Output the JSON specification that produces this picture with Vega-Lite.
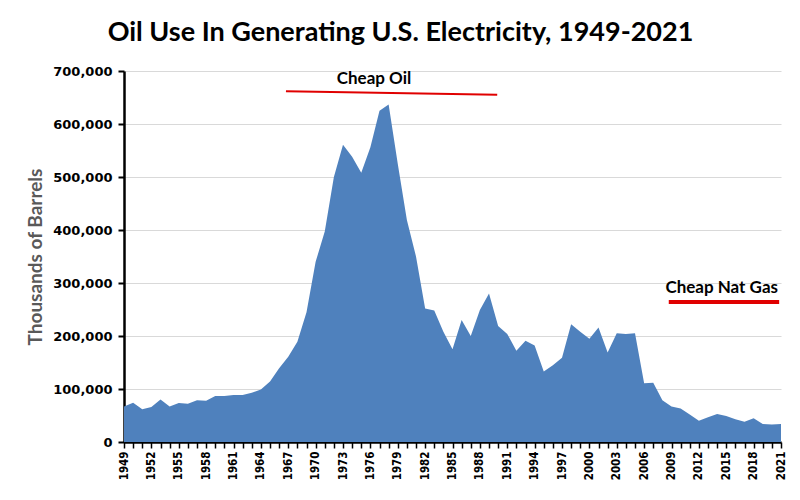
{
  "$schema": "https://vega.github.io/schema/vega-lite/v6.json",
  "width": 657,
  "height": 371,
  "autosize": {"type": "none"},
  "padding": {"left": 124, "top": 71, "right": 19, "bottom": 58},
  "background": "white",
  "config": {"view": {"stroke": null}},
  "title": {
    "text": "Oil Use In Generating U.S. Electricity, 1949-2021",
    "font": "Lato",
    "fontSize": 27,
    "fontWeight": "bold",
    "color": "#000000",
    "anchor": "middle",
    "frame": "group",
    "dx": -52,
    "offset": 18
  },
  "datasets": {
    "oil": [
      {"year": 1949, "barrels": 67000}, {"year": 1950, "barrels": 74000}, {"year": 1951, "barrels": 62000},
      {"year": 1952, "barrels": 66000}, {"year": 1953, "barrels": 80000}, {"year": 1954, "barrels": 67000},
      {"year": 1955, "barrels": 73500}, {"year": 1956, "barrels": 72000}, {"year": 1957, "barrels": 79000},
      {"year": 1958, "barrels": 78000}, {"year": 1959, "barrels": 87000}, {"year": 1960, "barrels": 87000},
      {"year": 1961, "barrels": 88600}, {"year": 1962, "barrels": 88600}, {"year": 1963, "barrels": 93000},
      {"year": 1964, "barrels": 99000}, {"year": 1965, "barrels": 114000}, {"year": 1966, "barrels": 139000},
      {"year": 1967, "barrels": 161000}, {"year": 1968, "barrels": 189000}, {"year": 1969, "barrels": 245000},
      {"year": 1970, "barrels": 340000}, {"year": 1971, "barrels": 397000}, {"year": 1972, "barrels": 500000},
      {"year": 1973, "barrels": 561000}, {"year": 1974, "barrels": 538000}, {"year": 1975, "barrels": 508000},
      {"year": 1976, "barrels": 556000}, {"year": 1977, "barrels": 625000}, {"year": 1978, "barrels": 637000},
      {"year": 1979, "barrels": 525000}, {"year": 1980, "barrels": 419000}, {"year": 1981, "barrels": 350000},
      {"year": 1982, "barrels": 252000}, {"year": 1983, "barrels": 248000}, {"year": 1984, "barrels": 208000},
      {"year": 1985, "barrels": 175000}, {"year": 1986, "barrels": 230000}, {"year": 1987, "barrels": 200000},
      {"year": 1988, "barrels": 249000}, {"year": 1989, "barrels": 280000}, {"year": 1990, "barrels": 219000},
      {"year": 1991, "barrels": 204000}, {"year": 1992, "barrels": 172000}, {"year": 1993, "barrels": 191000},
      {"year": 1994, "barrels": 182000}, {"year": 1995, "barrels": 133000}, {"year": 1996, "barrels": 145000},
      {"year": 1997, "barrels": 159000}, {"year": 1998, "barrels": 222000}, {"year": 1999, "barrels": 208000},
      {"year": 2000, "barrels": 195000}, {"year": 2001, "barrels": 216000}, {"year": 2002, "barrels": 169000},
      {"year": 2003, "barrels": 205000}, {"year": 2004, "barrels": 204000}, {"year": 2005, "barrels": 205000},
      {"year": 2006, "barrels": 111000}, {"year": 2007, "barrels": 112000}, {"year": 2008, "barrels": 79000},
      {"year": 2009, "barrels": 67000}, {"year": 2010, "barrels": 63000}, {"year": 2011, "barrels": 52000},
      {"year": 2012, "barrels": 40000}, {"year": 2013, "barrels": 46500}, {"year": 2014, "barrels": 53000},
      {"year": 2015, "barrels": 49000}, {"year": 2016, "barrels": 43000}, {"year": 2017, "barrels": 38000},
      {"year": 2018, "barrels": 45000}, {"year": 2019, "barrels": 34000}, {"year": 2020, "barrels": 33000},
      {"year": 2021, "barrels": 34000}
    ],
    "periods": [
      {"label": "Cheap Oil", "start": 1966.75, "end": 1989.9, "yStart": 662000, "yEnd": 655000, "labelYear": 1976.4, "labelY": 684000, "w": "thin"},
      {"label": "Cheap Nat Gas", "start": 2008.7, "end": 2020.8, "yStart": 264000, "yEnd": 264000, "labelYear": 2014.5, "labelY": 290000, "w": "thick"}
    ]
  },
  "layer": [
    {
      "data": {"name": "oil"},
      "mark": {"type": "area", "color": "#4F81BD", "opacity": 1},
      "encoding": {
        "x": {
          "field": "year", "type": "quantitative",
          "scale": {"domain": [1949, 2021], "nice": false, "zero": false},
          "axis": {
            "title": null,
            "values": [1949,1950,1951,1952,1953,1954,1955,1956,1957,1958,1959,1960,1961,1962,1963,1964,1965,1966,1967,1968,1969,1970,1971,1972,1973,1974,1975,1976,1977,1978,1979,1980,1981,1982,1983,1984,1985,1986,1987,1988,1989,1990,1991,1992,1993,1994,1995,1996,1997,1998,1999,2000,2001,2002,2003,2004,2005,2006,2007,2008,2009,2010,2011,2012,2013,2014,2015,2016,2017,2018,2019,2020,2021],
            "tickCount": 200,
            "format": "d",
            "labelExpr": "(datum.value - 1949) % 3 == 0 ? datum.label : ''",
            "labelAngle": 270,
            "labelFont": "DejaVu Sans Condensed",
            "labelFontWeight": "bold",
            "labelFontSize": 11.5,
            "labelColor": "#000000",
            "labelPadding": 3,
            "labelOverlap": false,
            "labelBound": false,
            "labelFlush": false,
            "domainColor": "#000000",
            "domainWidth": 2.5,
            "tickColor": "#000000",
            "tickWidth": 1.5,
            "tickSize": 6,
            "grid": false
          }
        },
        "y": {
          "field": "barrels", "type": "quantitative",
          "scale": {"domain": [0, 700000], "nice": false},
          "axis": {
            "title": "Thousands of Barrels",
            "titleFont": "Lato",
            "titleFontSize": 19,
            "titleFontWeight": "bold",
            "titleColor": "#595959",
            "titlePadding": 7,
            "values": [0,100000,200000,300000,400000,500000,600000,700000],
            "format": ",d",
            "labelFont": "DejaVu Sans",
            "labelFontWeight": "bold",
            "labelFontSize": 13,
            "labelColor": "#000000",
            "labelPadding": 6,
            "domainColor": "#000000",
            "domainWidth": 2.5,
            "tickColor": "#000000",
            "tickWidth": 2,
            "tickSize": 6,
            "grid": true,
            "gridColor": "#D9D9D9",
            "gridWidth": 1
          }
        }
      }
    },
    {
      "data": {"name": "periods"},
      "mark": {"type": "rule", "color": "#E00000"},
      "encoding": {
        "x": {"field": "start", "type": "quantitative"},
        "x2": {"field": "end"},
        "y": {"field": "yStart", "type": "quantitative"},
        "y2": {"field": "yEnd"},
        "strokeWidth": {"field": "w", "type": "nominal", "scale": {"domain": ["thin", "thick"], "range": [2, 4]}, "legend": null}
      }
    },
    {
      "data": {"name": "periods"},
      "mark": {"type": "text", "font": "Lato", "fontSize": 17, "fontWeight": "bold", "color": "#000000", "align": "center", "baseline": "middle"},
      "encoding": {
        "x": {"field": "labelYear", "type": "quantitative"},
        "y": {"field": "labelY", "type": "quantitative"},
        "text": {"field": "label"}
      }
    }
  ]
}
